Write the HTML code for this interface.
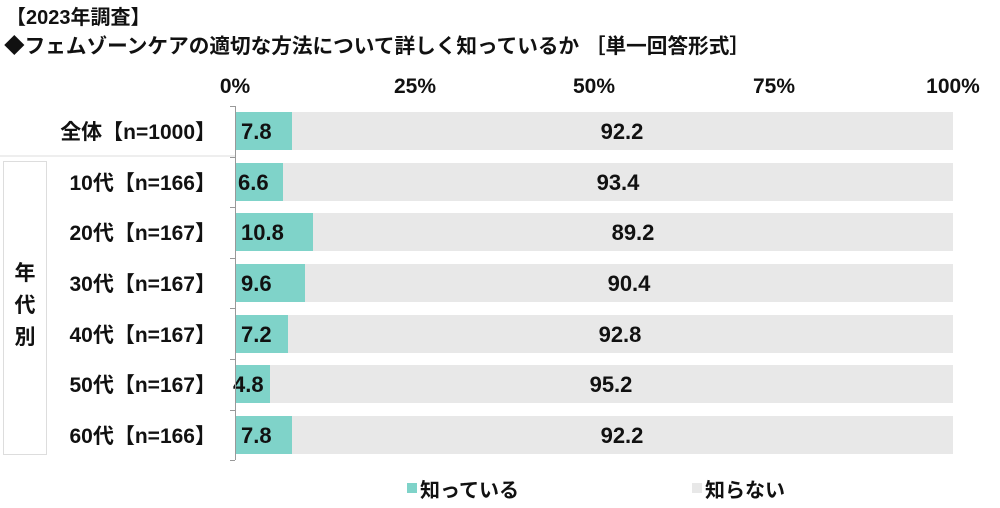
<!DOCTYPE html>
<html><head><meta charset="utf-8"><style>
body{margin:0;background:#fff}
svg{display:block}
text{font-family:"Liberation Sans","Noto Sans CJK JP",sans-serif;fill:#111}
</style></head><body>
<svg width="1000" height="508" viewBox="0 0 1000 508" xmlns="http://www.w3.org/2000/svg">
<text x="6" y="24" font-size="20" font-weight="bold">【2023年調査】</text>
<text x="4" y="53" font-size="20.5" font-weight="bold" textLength="746" lengthAdjust="spacingAndGlyphs">◆フェムゾーンケアの適切な方法について詳しく知っているか ［単一回答形式］</text>
<g font-size="21" font-weight="bold" text-anchor="middle">
<text x="235" y="93">0%</text><text x="415" y="93">25%</text><text x="594" y="93">50%</text><text x="774" y="93">75%</text><text x="953" y="93">100%</text>
</g>
<line x1="0" y1="156" x2="235" y2="156" stroke="#ddd" stroke-width="1"/>
<rect x="3.5" y="161.5" width="43" height="293" fill="none" stroke="#ddd"/>
<g font-size="21" font-weight="bold" text-anchor="middle">
<text x="25" y="280">年</text><text x="25" y="312">代</text><text x="25" y="344">別</text>
</g>
<g font-size="22" font-weight="bold">
<rect x="236" y="112" width="717" height="38" fill="#e8e8e8"/><rect x="236" y="112" width="56" height="38" fill="#7fd3c9"/>
<text x="241" y="139">7.8</text><text x="622" y="139" text-anchor="middle">92.2</text>
<rect x="236" y="163" width="717" height="38" fill="#e8e8e8"/><rect x="236" y="163" width="47" height="38" fill="#7fd3c9"/>
<text x="238" y="190">6.6</text><text x="618" y="190" text-anchor="middle">93.4</text>
<rect x="236" y="213" width="717" height="38" fill="#e8e8e8"/><rect x="236" y="213" width="77" height="38" fill="#7fd3c9"/>
<text x="241" y="240">10.8</text><text x="633" y="240" text-anchor="middle">89.2</text>
<rect x="236" y="264" width="717" height="38" fill="#e8e8e8"/><rect x="236" y="264" width="69" height="38" fill="#7fd3c9"/>
<text x="241" y="291">9.6</text><text x="629" y="291" text-anchor="middle">90.4</text>
<rect x="236" y="315" width="717" height="38" fill="#e8e8e8"/><rect x="236" y="315" width="52" height="38" fill="#7fd3c9"/>
<text x="241" y="342">7.2</text><text x="620" y="342" text-anchor="middle">92.8</text>
<rect x="236" y="365" width="717" height="38" fill="#e8e8e8"/><rect x="236" y="365" width="34" height="38" fill="#7fd3c9"/>
<text x="233" y="392">4.8</text><text x="611" y="392" text-anchor="middle">95.2</text>
<rect x="236" y="416" width="717" height="38" fill="#e8e8e8"/><rect x="236" y="416" width="56" height="38" fill="#7fd3c9"/>
<text x="241" y="443">7.8</text><text x="622" y="443" text-anchor="middle">92.2</text>
</g>
<g font-size="21" font-weight="bold" text-anchor="end">
<text x="216" y="139">全体【n=1000】</text>
<text x="216" y="190">10代【n=166】</text>
<text x="216" y="240">20代【n=167】</text>
<text x="216" y="291">30代【n=167】</text>
<text x="216" y="342">40代【n=167】</text>
<text x="216" y="392">50代【n=167】</text>
<text x="216" y="443">60代【n=166】</text>
</g>
<g stroke="#999" stroke-width="1">
<line x1="235.5" y1="106" x2="235.5" y2="460"/>
<line x1="230" y1="106.5" x2="235" y2="106.5"/><line x1="230" y1="157.5" x2="235" y2="157.5"/>
<line x1="230" y1="207.5" x2="235" y2="207.5"/><line x1="230" y1="258.5" x2="235" y2="258.5"/>
<line x1="230" y1="308.5" x2="235" y2="308.5"/><line x1="230" y1="359.5" x2="235" y2="359.5"/>
<line x1="230" y1="410.5" x2="235" y2="410.5"/><line x1="230" y1="460.5" x2="235" y2="460.5"/>
</g>
<rect x="407" y="483" width="10" height="10" fill="#7fd3c9"/>
<text x="420" y="497" font-size="20" font-weight="bold">知っている</text>
<rect x="692" y="483" width="10" height="10" fill="#e8e8e8"/>
<text x="705" y="497" font-size="20" font-weight="bold">知らない</text>
</svg>
</body></html>
